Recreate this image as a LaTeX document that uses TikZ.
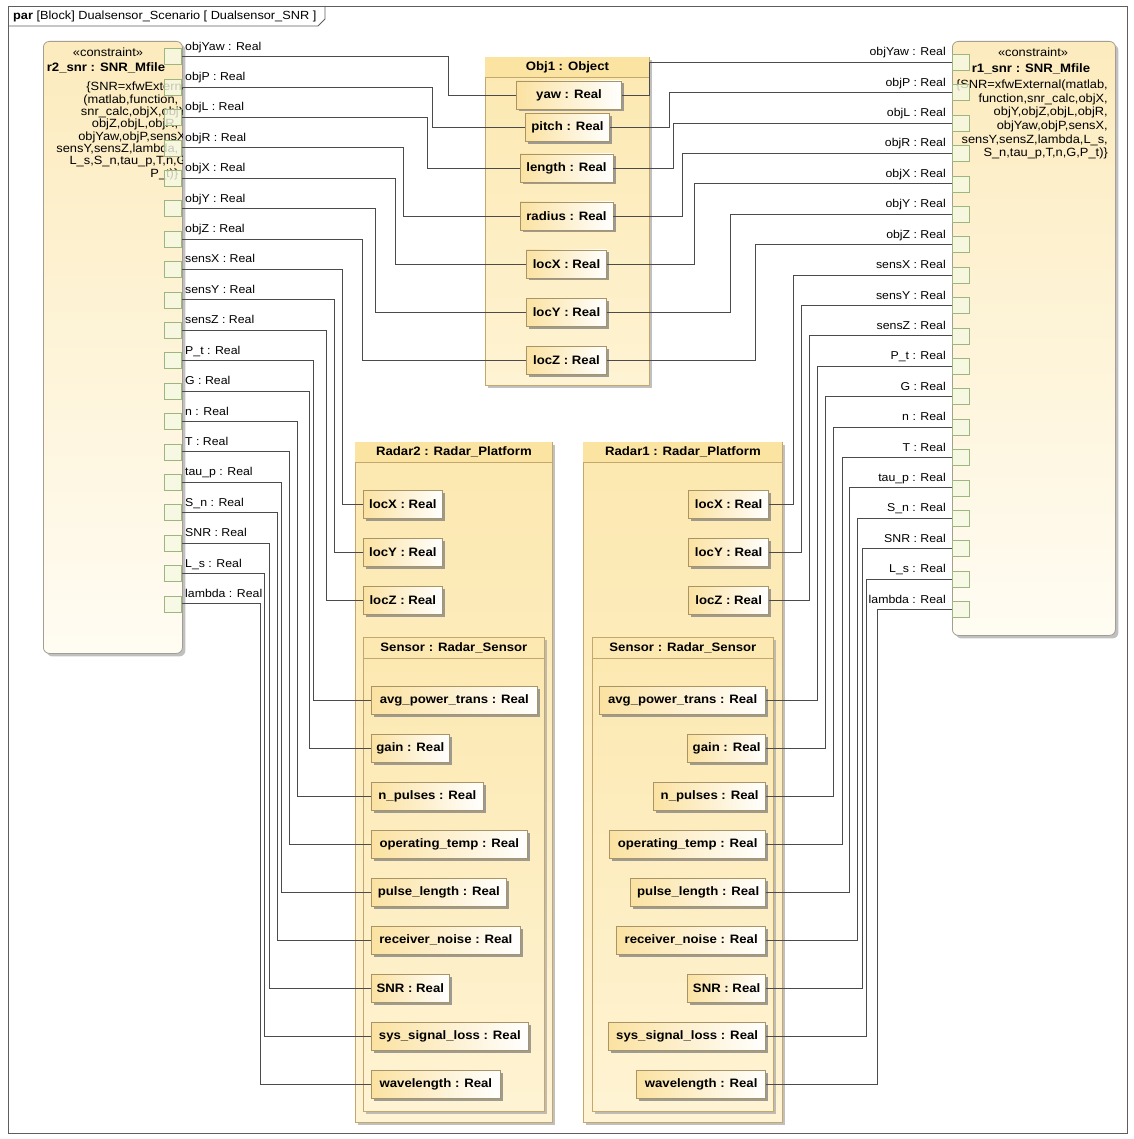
\documentclass[tikz,border=0pt]{standalone}
\usepackage{fontspec}
\setmainfont{Liberation Sans}[FakeStretch=1.08]
\usetikzlibrary{shadows}

\definecolor{wirecol}{HTML}{4B4B4B}
\definecolor{framecol}{HTML}{5E5E5E}
\definecolor{blkedge}{HTML}{C3A76C}
\definecolor{blktop}{HTML}{FCE8B0}
\definecolor{blkbot}{HTML}{FEF3D3}
\definecolor{headtint}{HTML}{FBE3A2}
\definecolor{cstedge}{HTML}{A39E90}
\definecolor{csttop}{HTML}{FCEBBD}
\definecolor{cstbot}{HTML}{FFFCF3}
\definecolor{partedge}{HTML}{A99468}
\definecolor{parttint}{HTML}{FBE2A1}
\definecolor{portedge}{HTML}{9DB57F}
\definecolor{portfill}{HTML}{F6F9E4}

\newcommand\regfont{\fontsize{11.4}{13}\selectfont}
\newcommand\cstfont{\fontsize{11.9}{13}\selectfont}
\newcommand\boldfont{\fontsize{12.2}{14}\selectfont\bfseries}

\tikzset{
  wire/.style={draw=wirecol, line width=0.9pt},
  blockbox/.style={draw=blkedge, line width=0.8pt, top color=blktop, bottom color=blkbot,
    anchor=north west, inner sep=0pt,
    drop shadow={shadow xshift=3pt, shadow yshift=-3pt, fill=black!35, opacity=.7}},
  cstbox/.style={draw=cstedge, line width=0.8pt, rounded corners=6pt, top color=csttop,
    bottom color=cstbot, anchor=north west, inner sep=0pt,
    drop shadow={shadow xshift=3pt, shadow yshift=-3pt, fill=black!35, opacity=.7}},
  partbox/.style={draw=partedge, line width=0.7pt, left color=parttint, right color=white,
    minimum height=28pt, inner sep=0pt, font=\boldfont,
    drop shadow={shadow xshift=2.5pt, shadow yshift=-2.5pt, fill=black!45, opacity=.85}},
  port/.style={draw=portedge, line width=0.7pt, fill=portfill, fill opacity=.8,
    minimum width=17pt, minimum height=16pt, inner sep=0pt},
  plabel/.style={inner sep=0pt, font=\regfont},
  ctext/.style={inner sep=0pt, font=\cstfont},
  title/.style={inner sep=0pt, font=\boldfont},
}

\begin{document}
\begin{tikzpicture}[x=1pt,y=-1pt]
\useasboundingbox (0,0) rectangle (1133,1139);
\fill[white] (0,0) rectangle (1133,1139);

% diagram frame and its name tab
\draw[framecol, line width=0.8pt] (8,6) rectangle (1127,1133);
\draw[framecol, line width=0.8pt] (8,26) -- (318,26) -- (325,19) -- (325,6);
\node[anchor=west, inner sep=0pt, font=\fontsize{11.8}{13}\selectfont] (frametitle) at (13,16.5)
  {\textbf{par} [Block] Dualsensor\_Scenario [ Dualsensor\_SNR ]};

% ---------- constraint blocks ----------
\node[cstbox, minimum width=139pt, minimum height=612pt] (r2snr) at (43,41) {};
\node[cstbox, minimum width=163pt, minimum height=594pt] (r1snr) at (952,41) {};

\node[ctext] (r2st) at (108,52.5) {«constraint»};
\node[title] (r2nm) at (106,68) {r2\_snr : SNR\_Mfile};
\begin{scope}
  \clip (43,41) rectangle (182,653);
  \node[ctext, anchor=base east] (r2e1) at (192,91) {\{SNR=xfwExternal};
  \node[ctext, anchor=base east] (r2e2) at (178.5,103.3) {(matlab,function,};
  \node[ctext, anchor=base east] (r2e3) at (189.5,115.6) {snr\_calc,objX,objY,};
  \node[ctext, anchor=base east] (r2e4) at (178.5,127.9) {objZ,objL,objR,};
  \node[ctext, anchor=base east] (r2e5) at (189.5,140.2) {objYaw,objP,sensX,};
  \node[ctext, anchor=base east] (r2e6) at (178.5,152.5) {sensY,sensZ,lambda,};
  \node[ctext, anchor=base east] (r2e7) at (190.5,164.8) {L\_s,S\_n,tau\_p,T,n,G,};
  \node[ctext, anchor=base east] (r2e8) at (178.5,177.1) {P\_t)\}};
\end{scope}

\node[ctext] (r1st) at (1033,52) {«constraint»};
\node[title] (r1nm) at (1031,68.5) {r1\_snr : SNR\_Mfile};
\node[ctext, anchor=base east] (r1e1) at (1108,88.5) {\{SNR=xfwExternal(matlab,};
\node[ctext, anchor=base east] (r1e2) at (1108,102.2) {function,snr\_calc,objX,};
\node[ctext, anchor=base east] (r1e3) at (1108,115.9) {objY,objZ,objL,objR,};
\node[ctext, anchor=base east] (r1e4) at (1108,129.6) {objYaw,objP,sensX,};
\node[ctext, anchor=base east] (r1e5) at (1108,143.3) {sensY,sensZ,lambda,L\_s,};
\node[ctext, anchor=base east] (r1e6) at (1108,157) {S\_n,tau\_p,T,n,G,P\_t)\}};

% ---------- Obj1 ----------
\node[blockbox, minimum width=164pt, minimum height=328pt] (obj) at (485,57) {};
\fill[headtint] ([xshift=.4pt,yshift=-.4pt]obj.north west) rectangle ([xshift=-.4pt,yshift=-20pt]obj.north east);
\draw[blkedge, line width=0.8pt] ([yshift=-20pt]obj.north west) -- ([yshift=-20pt]obj.north east);
\node[title] (objt) at ([yshift=-10pt]obj.north) {Obj1 : Object};

\node[partbox, minimum width=105pt] (yaw) at (569,95) {yaw : Real};
\node[partbox, minimum width=84pt] (pitch) at (567.5,127.5) {pitch : Real};
\node[partbox, minimum width=93pt] (length) at (566.5,168) {length : Real};
\node[partbox, minimum width=93pt] (radius) at (566.5,216) {radius : Real};
\node[partbox, minimum width=80pt] (oX) at (566.5,264) {locX : Real};
\node[partbox, minimum width=80pt] (oY) at (566.5,312) {locY : Real};
\node[partbox, minimum width=80pt] (oZ) at (566.5,360) {locZ : Real};

% ---------- radar platforms ----------
\node[blockbox, minimum width=197pt, minimum height=680pt] (rad2) at (355,442) {};
\fill[headtint] ([xshift=.4pt,yshift=-.4pt]rad2.north west) rectangle ([xshift=-.4pt,yshift=-20pt]rad2.north east);
\draw[blkedge, line width=0.8pt] ([yshift=-20pt]rad2.north west) -- ([yshift=-20pt]rad2.north east);
\node[title] (rad2t) at ([yshift=-10pt]rad2.north) {Radar2 : Radar\_Platform};

\node[blockbox, minimum width=199pt, minimum height=680pt] (rad1) at (583,442) {};
\fill[headtint] ([xshift=.4pt,yshift=-.4pt]rad1.north west) rectangle ([xshift=-.4pt,yshift=-20pt]rad1.north east);
\draw[blkedge, line width=0.8pt] ([yshift=-20pt]rad1.north west) -- ([yshift=-20pt]rad1.north east);
\node[title] (rad1t) at ([yshift=-10pt]rad1.north) {Radar1 : Radar\_Platform};

\node[blockbox, minimum width=181pt, minimum height=474pt] (sen2) at (363,637) {};
\draw[blkedge, line width=0.8pt] ([yshift=-21pt]sen2.north west) -- ([yshift=-21pt]sen2.north east);
\node[title] (sen2t) at ([yshift=-10.5pt]sen2.north) {Sensor : Radar\_Sensor};

\node[blockbox, minimum width=181pt, minimum height=474pt] (sen1) at (592,637) {};
\draw[blkedge, line width=0.8pt] ([yshift=-21pt]sen1.north west) -- ([yshift=-21pt]sen1.north east);
\node[title] (sen1t) at ([yshift=-10.5pt]sen1.north) {Sensor : Radar\_Sensor};

% location parts
\foreach \nm/\lb/\yy in {X/locX/504, Y/locY/552, Z/locZ/600}{
  \node[partbox, minimum width=79pt, anchor=west] (p2\nm) at (363,\yy) {\lb{} : Real};
  \node[partbox, minimum width=80pt, anchor=east] (p1\nm) at (769,\yy) {\lb{} : Real};
}

% sensor parts
\foreach \nm/\lb/\w/\yy in {a/avg\_power\_trans/166/700, b/gain/78/748, c/n\_pulses/112/796,
    d/operating\_temp/156/844, e/pulse\_length/135/892, f/receiver\_noise/149/940,
    g/SNR/78/988, h/sys\_signal\_loss/157/1036, i/wavelength/129/1084}{
  \node[partbox, minimum width=\w pt, anchor=west] (s2\nm) at (371,\yy) {\lb{} : Real};
  \node[partbox, minimum width=\w pt, anchor=east] (s1\nm) at (766,\yy) {\lb{} : Real};
}

% ---------- constraint parameters ----------
\foreach \nm [count=\i from 0] in {objYaw,objP,objL,objR,objX,objY,objZ,sensX,sensY,sensZ,
    P\_t,G,n,T,tau\_p,S\_n,SNR,L\_s,lambda}{
  \pgfmathsetmacro\ya{56.7+30.4*\i}
  \pgfmathsetmacro\yb{62.3+30.4*\i}
  \node[port, anchor=east] (L\i) at (182,\ya) {};
  \node[plabel, anchor=base west] (Lt\i) at (185,\ya-6.5) {\nm{} : Real};
  \node[port, anchor=west] (R\i) at (952,\yb) {};
  \node[plabel, anchor=base east] (Rt\i) at (946,\yb-6.5) {\nm{} : Real};
}

% ---------- binding connectors ----------
\foreach \t/\jx [count=\i from 0] in {yaw/448, pitch/432, length/427, radius/403, oX/395,
    oY/375, oZ/362, p2X/342, p2Y/334, p2Z/326, s2a/313, s2b/309, s2c/297, s2d/289,
    s2e/281, s2f/277, s2g/269, s2h/264, s2i/260.5}{
  \draw[wire] (L\i.east) -- ++({\jx-182},0) |- (\t.west);
}
\foreach \t/\jx [count=\i from 0] in {yaw/649, pitch/669, length/673, radius/682, oX/694,
    oY/730, oZ/755, p1X/793, p1Y/801, p1Z/809, s1a/817, s1b/825, s1c/833, s1d/842,
    s1e/849, s1f/857, s1g/862, s1h/866, s1i/877}{
  \draw[wire] (R\i.west) -- ++({\jx-952},0) |- (\t.east);
}
\end{tikzpicture}
\end{document}
